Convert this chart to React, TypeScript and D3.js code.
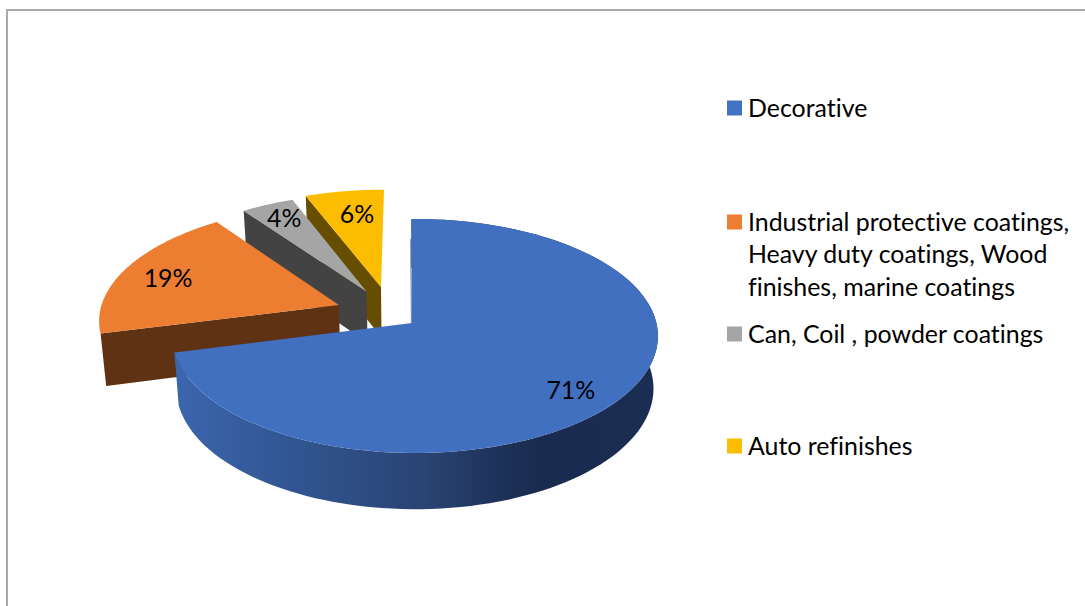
import * as d3 from "d3";

// Market share by coatings segment
const categories = [
  "Decorative",
  "Industrial protective coatings, Heavy duty coatings, Wood finishes, marine coatings",
  "Can, Coil , powder coatings",
  "Auto refinishes",
];
const shares = [71, 19, 4, 6];
const valueLabels = ["71%", "19%", "4%", "6%"];
const legendLines = [
  ["Decorative"],
  ["Industrial protective coatings,", "Heavy duty coatings, Wood", "finishes, marine coatings"],
  ["Can, Coil , powder coatings"],
  ["Auto refinishes"],
];

const topColors = ["#4270c0", "#ed7d31", "#a5a5a5", "#fcbd00"];
const wallColors = ["#2a4473", "#5f3214", "#434343", "#664d00"];

// Perspective pie layout: disc units, with each slice pulled out from the hub
const WIDTH = 1085;
const HEIGHT = 606;
const hub = { x: 412, y: 323 };
const radiusX = 241.5;
const radiusY = 115.6;
const perspective = 0.111;
const wallDepth = 52;
const floorScale = 0.982;
const explodeX = [0.012, -0.308, -0.1934, -0.133];
const explodeY = [0, -0.158, -0.279, -0.3226];
const blueArcLead = 0.015;
const labelRadius = [0.815, 0.788, 0.831, 0.74];
const labelTurn = [0.073, -0.024, 0.007, 0.024];
const legendRowY = [108, 222, 334, 446];
const legendLineHeight = 32.5;

const fontFamily = "Lato, Carlito, sans-serif";
const fontSize = 24.9;

type Pt = [number, number];

// Projects a disc point to the screen; floor=true gives the underside of the disc.
function project(x: number, y: number, floor = false): Pt {
  const s = 1 / (1 - perspective * y);
  const k = floor ? floorScale : 1;
  return [
    hub.x + radiusX * x * s * k,
    hub.y + radiusY * y * s * k + (floor ? wallDepth * s : 0),
  ];
}

const rim = (i: number, a: number, floor = false, r = 1): Pt =>
  project(explodeX[i] + r * Math.sin(a), explodeY[i] - r * Math.cos(a), floor);

const arcAngles = (a0: number, a1: number) =>
  d3.range(0, 121).map((k) => a0 + ((a1 - a0) * k) / 120);

const toPath = d3.line<Pt>();

export default function App() {
  const slices = d3
    .pie<number>()
    .sort(null)
    .startAngle(0)
    .endAngle(2 * Math.PI)(shares);

  const colorOf = d3.scaleOrdinal<number, string>().domain(d3.range(4)).range(topColors);
  const wallOf = d3.scaleOrdinal<number, string>().domain(d3.range(4)).range(wallColors);

  // Painted from the back of the disc to the front
  const order = [3, 2, 1, 0];

  return (
    <svg
      width={WIDTH}
      height={HEIGHT}
      viewBox={`0 0 ${WIDTH} ${HEIGHT}`}
      style={{
        position: "absolute",
        left: 0,
        top: 0,
        display: "block",
        background: "#fff",
        fontVariantLigatures: "none",
      }}
      fontFamily={fontFamily}
    >
      <defs>
        <linearGradient id="blueWall" gradientUnits="userSpaceOnUse" x1={176} x2={652} y1={0} y2={0}>
          <stop offset="0" stopColor="#3b65ad" />
          <stop offset="0.27" stopColor="#30548f" />
          <stop offset="0.52" stopColor="#2a4473" />
          <stop offset="0.7" stopColor="#1c3056" />
          <stop offset="0.77" stopColor="#192b4f" />
          <stop offset="1" stopColor="#1a2d52" />
        </linearGradient>
      </defs>

      <path d={`M7 ${HEIGHT}V10H${WIDTH}`} fill="none" stroke="#a9a9a9" strokeWidth={2} />

      {order.map((i) => {
        const d = slices[i];
        const lead = i === 0 ? blueArcLead : 0;
        const angles = arcAngles(d.startAngle - lead, d.endAngle);
        const apex = project(i === 0 ? 0 : explodeX[i], explodeY[i]);
        const apexFloor = project(i === 0 ? 0 : explodeX[i], explodeY[i], true);
        const top: Pt[] = [apex, ...angles.map((a) => rim(i, a)), apex];
        const cut: Pt[] = [apex, rim(i, d.startAngle), rim(i, d.startAngle, true), apexFloor, apex];
        const outerTop = angles.map((a) => rim(i, a));
        const outerFloor = angles.map((a) => rim(i, a, true)).reverse();
        const edgeStart = rim(i, d.startAngle - lead);
        return (
          <g key={categories[i]}>
            {i === 0 ? (
              <>
                <path d={toPath([...outerTop, ...outerFloor])!} fill="url(#blueWall)" />
                <path
                  d={toPath([[edgeStart[0] - 0.6, edgeStart[1] + 20], [apex[0] - 0.6, apex[1]]])!}
                  stroke="#2a4473"
                  strokeWidth={1}
                  opacity={0.7}
                  fill="none"
                />
              </>
            ) : (
              <path d={toPath(cut)!} fill={wallOf(i)} />
            )}
            <path d={toPath(top)!} fill={colorOf(i)} />
          </g>
        );
      })}

      {slices.map((d, i) => {
        const mid = (d.startAngle + d.endAngle) / 2 + labelTurn[i];
        const [x, y] = rim(i, mid, false, labelRadius[i]);
        return (
          <text key={valueLabels[i]} x={x} y={y} dy="0.35em" textAnchor="middle" fontSize={fontSize} fill="#000">
            {valueLabels[i]}
          </text>
        );
      })}

      {legendLines.map((lines, i) => (
        <g key={categories[i]}>
          <rect x={727} y={legendRowY[i] - 7.5} width={15} height={15} fill={i === 0 ? "#4472c4" : colorOf(i)} />
          {lines.map((line, j) => (
            <text
              key={line}
              x={748}
              y={legendRowY[i] + j * legendLineHeight}
              dy="0.35em"
              fontSize={fontSize}
              fill="#000"
            >
              {line}
            </text>
          ))}
        </g>
      ))}
    </svg>
  );
}
